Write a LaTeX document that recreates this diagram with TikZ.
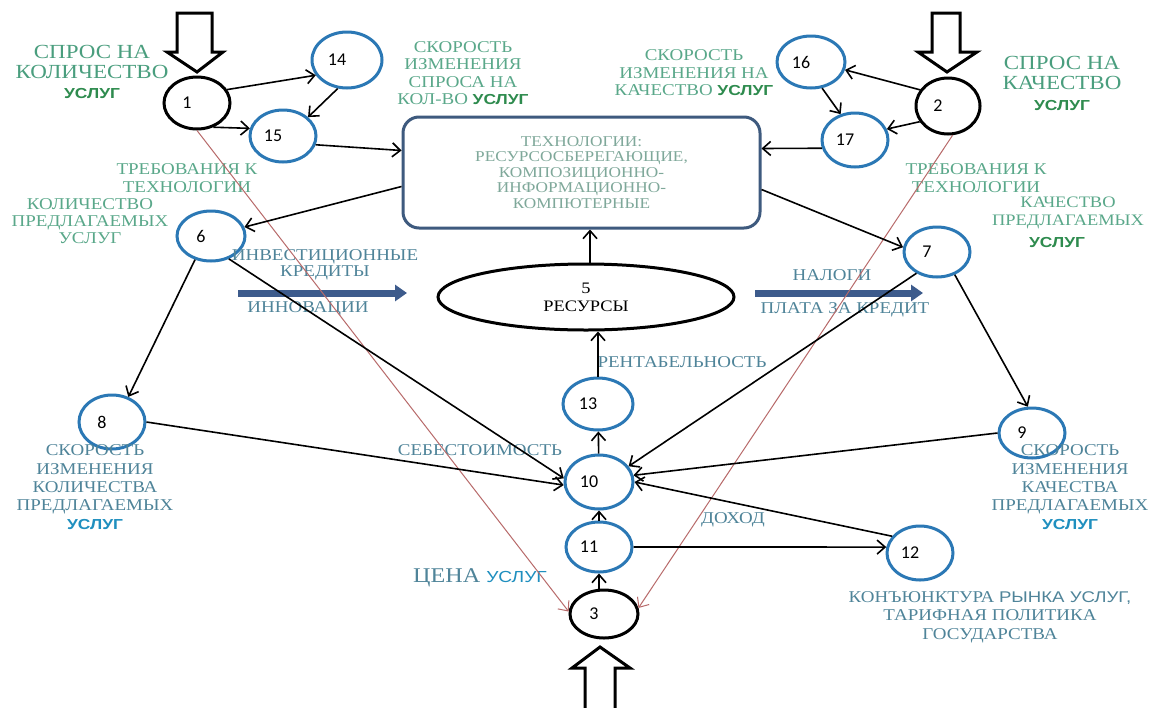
\documentclass[tikz,border=0pt]{standalone}
\usepackage{fontspec}
\setmainfont[FakeStretch=1.15]{Liberation Serif}
\newfontfamily\sw[FakeStretch=1.2]{Liberation Sans}
\newfontfamily\numf{Carlito}
\usetikzlibrary{arrows.meta,shapes.geometric}
\definecolor{cblue}{HTML}{2B78B5}
\definecolor{grn}{HTML}{4A9E7E}
\definecolor{grnl}{HTML}{5AA88A}
\definecolor{ubg}{HTML}{2E8B4E}
\definecolor{tblue}{HTML}{4F8499}
\definecolor{ubb}{HTML}{1F8FBF}
\definecolor{boxtxt}{HTML}{7FA89A}
\definecolor{boxc}{HTML}{3E5A7E}
\definecolor{barrow}{HTML}{3D5B8C}
\definecolor{redl}{HTML}{B86A6A}
\newcommand\fs[2]{\fontsize{#1}{#2}\selectfont}
\newcommand\nm[1]{\makebox[0pt]{\kern-20pt #1}}
\newcommand\usg[1]{{\sw\bfseries\fontsize{14.5}{14.5}\selectfont\color{#1}УСЛУГ}}
\begin{document}
\begin{tikzpicture}[x=1pt,y=-1pt,
  >={Straight Barb[length=8pt,width=14pt]},
  circ/.style={ellipse, draw=cblue, line width=3pt, minimum width=66pt, minimum height=52pt, inner sep=0pt, font=\numf\fs{18}{18}, text=black},
  bcirc/.style={circ, draw=black},
  conn/.style={line width=1.6pt, ->},
  redconn/.style={draw=redl, line width=1pt, ->},
  lbl/.style={align=center, inner sep=0pt},
  bigarrow/.style={draw=black, line width=3pt, fill=white, line join=miter},
  bluearrow/.style={draw=barrow, line width=7pt, -{Triangle[length=12pt,width=16pt]}}
]
\fill[white] (0,0) rectangle (1155,707);
\useasboundingbox (0,0) rectangle (1155,707);

% hollow input arrows
\draw[bigarrow] (177,13) -- (212,13) -- (212,52) -- (223,52) -- (197,72) -- (167,52) -- (177,52) -- cycle;
\draw[bigarrow] (932,13) -- (960,13) -- (960,52) -- (977,52) -- (947,72) -- (918,52) -- (932,52) -- cycle;
\draw[bigarrow] (585,710) -- (585,668) -- (572,668) -- (600,647) -- (630,668) -- (615,668) -- (615,710);

% main nodes
\node[bcirc] (n1) at (197,103) {\nm{1}};
\node[circ] (n14) at (347,60) [minimum width=70pt, minimum height=56pt] {\nm{14}};
\node[circ] (n15) at (283,136) {\nm{15}};
\node[circ] (n16) at (811,62) [minimum width=68pt] {\nm{16}};
\node[circ] (n17) at (855,140) [minimum height=54pt] {\nm{17}};
\node[bcirc] (n2) at (948,106) [minimum width=64pt, minimum height=56pt] {\nm{2}};
\node[circ] (n6) at (211,236) [minimum width=68pt, minimum height=50pt] {\nm{6}};
\node[circ] (n7) at (937,252) [minimum height=50pt] {\nm{7}};
\node[circ] (n8) at (112,422) [minimum height=54pt] {\nm{8}};
\node[circ] (n9) at (1032,433) [minimum height=50pt] {\nm{9}};
\node[circ] (n13) at (598,404) [minimum width=70pt] {\nm{13}};
\node[circ] (n10) at (599,482) [minimum width=68pt, minimum height=54pt] {\nm{10}};
\node[circ] (n11) at (599,547) [minimum height=50pt] {\nm{11}};
\node[bcirc] (n3) at (604,614) [minimum width=68pt, minimum height=48pt] {\nm{3}};
\node[circ] (n12) at (920,553) [minimum height=54pt] {\nm{12}};

\node[draw=boxc, line width=3pt, rounded corners=16pt, minimum width=357pt, minimum height=111pt,
      align=center, text=boxtxt, font=\fs{15}{15.5}] (box) at (581.5,172.5)
  {ТЕХНОЛОГИИ:\\РЕСУРСОСБЕРЕГАЮЩИЕ,\\КОМПОЗИЦИОННО-\\ИНФОРМАЦИОННО-\\КОМПЮТЕРНЫЕ};

\node[ellipse, draw=black, line width=3pt, minimum width=296pt, minimum height=66pt,
      align=center, font=\fs{16}{18}, inner sep=0pt] (n5) at (586,297) {5\\РЕСУРСЫ};

% texts
\node[lbl, text=grn, font=\fs{20}{20}] (t1) at (92,72) {СПРОС НА\\КОЛИЧЕСТВО\\\usg{ubg}};
\node[lbl, text=grnl, font=\fs{16.5}{17.5}] (t2) at (463,73) {СКОРОСТЬ\\ИЗМЕНЕНИЯ\\СПРОСА НА\\КОЛ-ВО \usg{ubg}};
\node[lbl, text=grnl, font=\fs{16.5}{17.5}] (t3) at (694,73) {СКОРОСТЬ\\ИЗМЕНЕНИЯ НА\\КАЧЕСТВО \usg{ubg}};
\node[lbl, text=grn, font=\fs{20}{20.5}] (t4) at (1062,83) {СПРОС НА\\КАЧЕСТВО\\\usg{ubg}};
\node[lbl, text=grnl, font=\fs{16.5}{18}] (t5) at (187,178) {ТРЕБОВАНИЯ К\\ТЕХНОЛОГИИ};
\node[lbl, text=grnl, font=\fs{16.5}{17}] (t6) at (90,221) {КОЛИЧЕСТВО\\ПРЕДЛАГАЕМЫХ\\УСЛУГ};
\node[lbl, text=grnl, font=\fs{16.5}{18}] (t7) at (976,178) {ТРЕБОВАНИЯ К\\ТЕХНОЛОГИИ};
\node[lbl, text=grnl, font=\fs{16}{18}] (t8) at (1068,213) {КАЧЕСТВО\\ПРЕДЛАГАЕМЫХ};
\node[lbl] (t8b) at (1057,243) {\usg{ubg}};
\node[lbl, text=tblue, font=\fs{16.5}{16}] (t9) at (325,265) {ИНВЕСТИЦИОННЫЕ\\КРЕДИТЫ};
\node[lbl, text=tblue, font=\fs{16.5}{16}] (t10) at (308,309) {ИННОВАЦИИ};
\node[lbl, text=tblue, font=\fs{16.5}{16}] (t11) at (832,275) {НАЛОГИ};
\node[lbl, text=tblue, font=\fs{16.5}{16}] (t12) at (845,310) {ПЛАТА ЗА КРЕДИТ};
\node[lbl, text=tblue, font=\fs{16.5}{16}] (t13) at (682,362) {РЕНТАБЕЛЬНОСТЬ};
\node[lbl, text=tblue, font=\fs{16.5}{16}] (t14) at (480,450) {СЕБЕСТОИМОСТЬ};
\node[lbl, text=tblue, font=\fs{16.5}{16}] (t15) at (733,520) {ДОХОД};
\node[lbl, text=tblue, font=\fs{16.5}{18.3}] (t16) at (95,487) {СКОРОСТЬ\\ИЗМЕНЕНИЯ\\КОЛИЧЕСТВА\\ПРЕДЛАГАЕМЫХ\\\usg{ubb}};
\node[lbl, text=tblue, font=\fs{16.5}{18.3}] (t17) at (1070,487) {СКОРОСТЬ\\ИЗМЕНЕНИЯ\\КАЧЕСТВА\\ПРЕДЛАГАЕМЫХ\\\usg{ubb}};
\node[lbl, text=tblue, font=\fs{21}{21}] (t18) at (480,578) {ЦЕНА {\sw\fs{16}{16}\color{ubb}УСЛУГ}};
\node[lbl, text=tblue, font=\fs{16.5}{18.5}] (t19) at (990,617) {КОНЪЮНКТУРА {\sw\fs{15.5}{18.5}РЫНКА УСЛУГ,}\\ТАРИФНАЯ ПОЛИТИКА\\ГОСУДАРСТВА};

% blue thick arrows
\coordinate (ba1) at (238,293);
\coordinate (ba2) at (407,293);
\coordinate (bb1) at (755,293);
\coordinate (bb2) at (923,293);
\draw[bluearrow] (ba1) -- (ba2);
\draw[bluearrow] (bb1) -- (bb2);

% red lines
\draw[redconn] (n1.270) -- (n3.176);
\draw[redconn] (n2.279) -- (n3.10);

% connectors
\draw[conn] (n1.24) -- (n14.206);
\draw[conn] (n1.304) -- (n15.167);
\draw[conn] (n14.252) -- (n15.37);
\draw[conn] (n15.345) -- ([yshift=22pt]box.west);
\draw[conn] ([yshift=-14pt]box.west) -- (n6.15);
\draw[conn] (n2.150) -- (n16.347);
\draw[conn] (n2.209) -- (n17.19);
\draw[conn] (n16.293) -- (n17.119);
\draw[conn] (n17.194) -- ([yshift=24pt]box.east);
\draw[conn] ([yshift=-17pt]box.east) -- (n7.172);
\draw[conn] ([xshift=4pt]n5.north) -- ([xshift=8.5pt]box.south);
\draw[conn] (n13.north) -- (n13.north |- n5.south);
\draw[conn] (n10) -- (n13);
\draw[conn] (n11) -- (n10);
\draw[conn] (n3.north -| n11) -- (n11);
\draw[conn] (n6.236) -- (n8.57);
\draw[conn] (n6.308) -- (n10.174);
\draw[conn] (n8.east) -- (n10.185);
\draw[conn] (n7.226) -- (n10.28);
\draw[conn] (n7.308) -- (n9.99);
\draw[conn] (n9.west) -- (n10.11);
\draw[conn] (n12.149) -- (n10.east);
\draw[conn] (n11.east) -- (n12.170);
\end{tikzpicture}
\end{document}
